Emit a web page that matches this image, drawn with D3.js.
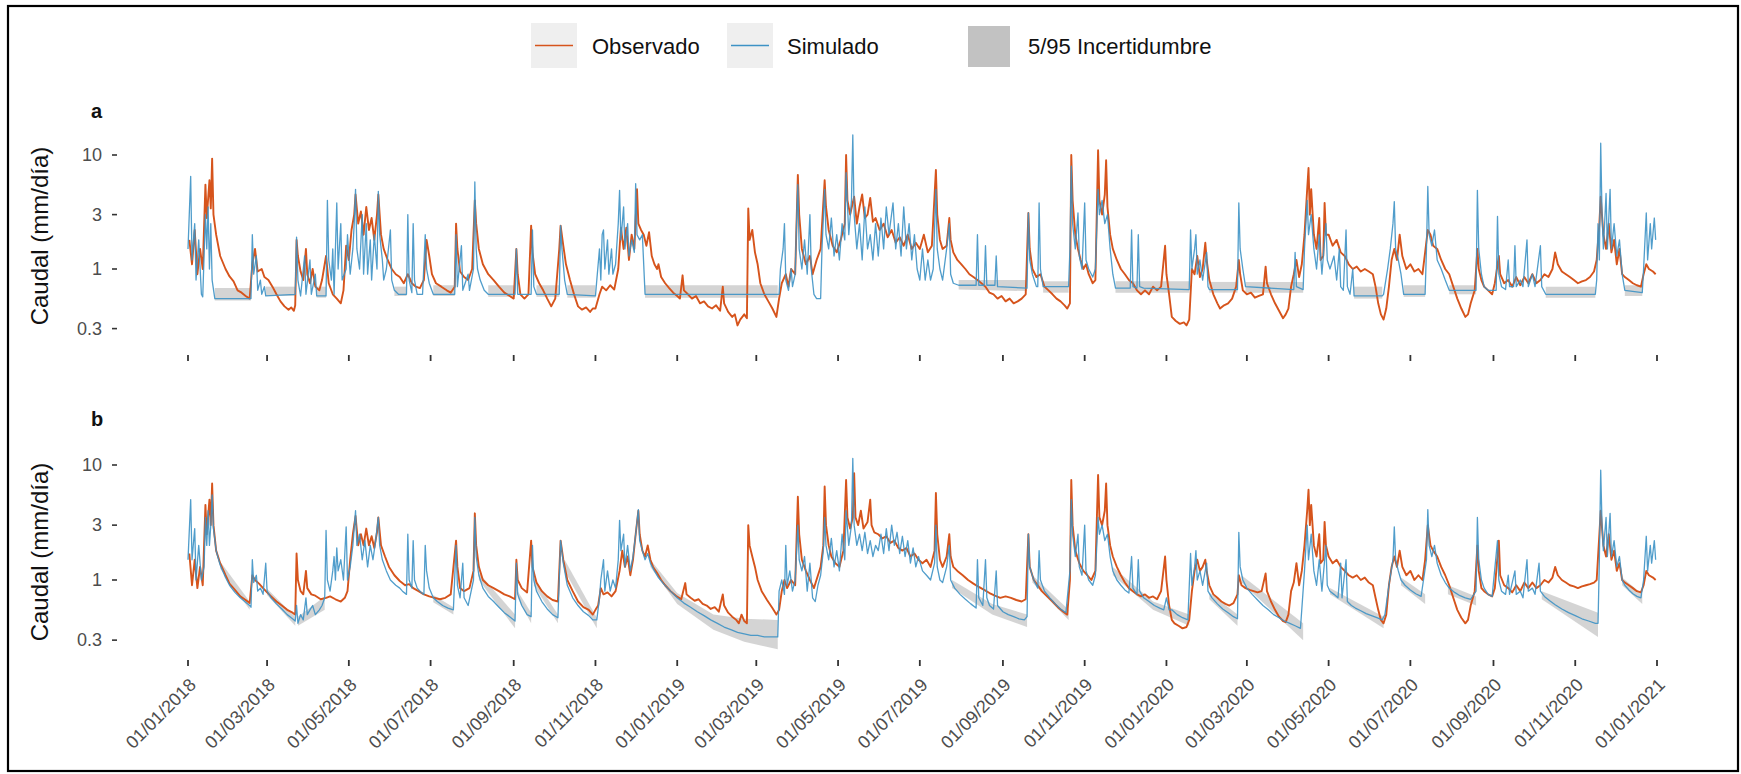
<!DOCTYPE html>
<html>
<head>
<meta charset="utf-8">
<script src="https://cdn.jsdelivr.net/npm/d3@7"></script>
<style>
  html, body { margin: 0; padding: 0; background: #fff; }
  svg { display: block; }
  text { font-family: "Liberation Sans", Arial, Helvetica, sans-serif; }
</style>
</head>
<body>
<svg id="chart" width="1741" height="774"></svg>
<script>
// Daily discharge (mm/día), days counted from 01/01/2018.
const START = new Date(2018, 0, 1);
const END = new Date(2021, 0, 1);

// Panel a: observed and simulated discharge
const obsA = [[1,1.8],[3,1.1],[5,2.2],[7,0.9],[9,1.5],[11,1.0],[13,5.5],[14,2.8],[16,6.0],[17,3.4],[18,9.3],[19,3.0],[21,2.0],[24,1.3],[28,1.0],[31,0.86],[34,0.78],[37,0.65],[40,0.62],[43,0.58],[46,0.55],[48,1.1],[50,1.5],[52,0.95],[55,1.0],[57,0.85],[60,0.8],[63,0.7],[66,0.6],[69,0.52],[72,0.47],[75,0.44],[77,0.46],[79,0.43],[80,0.48],[81,1.8],[82,1.3],[84,0.95],[86,0.8],[88,1.5],[89,0.9],[91,0.75],[93,1.0],[95,0.7],[98,0.65],[100,0.8],[103,1.3],[105,0.75],[108,0.6],[111,0.55],[114,0.5],[116,0.65],[118,1.6],[120,1.2],[122,2.2],[124,3.0],[125,4.5],[127,2.5],[129,3.2],[131,2.0],[133,3.5],[135,2.2],[137,2.8],[139,1.8],[141,3.0],[142,4.5],[144,2.0],[146,1.5],[149,1.2],[152,1.0],[155,0.9],[158,0.85],[161,0.75],[164,0.9],[167,0.75],[170,0.7],[173,0.68],[176,0.8],[178,1.8],[180,1.3],[182,0.9],[185,0.75],[189,0.7],[193,0.65],[196,0.62],[199,0.7],[200,2.5],[201,1.5],[203,0.95],[206,0.85],[209,0.8],[212,1.0],[214,4.0],[215,2.5],[217,1.5],[220,1.1],[224,0.9],[228,0.8],[232,0.7],[236,0.62],[240,0.58],[243,0.55],[245,1.5],[246,0.9],[248,0.6],[251,0.55],[254,0.6],[256,2.4],[257,1.4],[259,0.9],[262,0.75],[265,0.65],[268,0.55],[271,0.47],[274,0.55],[277,1.5],[278,2.4],[280,1.6],[282,1.1],[285,0.8],[288,0.6],[291,0.47],[294,0.44],[297,0.46],[300,0.42],[302,0.45],[304,0.45],[307,0.6],[309,0.7],[312,0.65],[315,0.72],[318,0.66],[321,1.0],[323,2.3],[325,1.5],[327,2.3],[329,1.2],[331,2.0],[333,1.5],[335,5.0],[336,2.5],[338,2.2],[340,2.0],[342,1.6],[344,2.1],[346,1.3],[348,1.1],[350,1.0],[351,1.1],[353,0.85],[356,0.75],[359,0.68],[362,0.62],[365,0.58],[367,0.55],[369,0.88],[370,0.65],[373,0.6],[376,0.55],[379,0.58],[382,0.5],[385,0.52],[388,0.47],[391,0.45],[394,0.48],[397,0.43],[399,0.7],[400,0.5],[403,0.42],[406,0.38],[408,0.4],[410,0.32],[412,0.36],[415,0.4],[417,0.37],[418,3.4],[419,1.8],[421,2.2],[423,1.4],[425,1.1],[427,0.75],[430,0.6],[433,0.52],[436,0.45],[439,0.38],[441,0.55],[443,0.75],[446,0.9],[448,0.7],[450,1.0],[453,0.9],[455,6.7],[456,3.0],[458,1.5],[461,1.1],[464,1.3],[466,0.9],[469,1.2],[472,1.5],[475,6.0],[476,3.5],[478,2.2],[481,1.6],[484,1.4],[487,1.8],[490,2.5],[491,10.0],[492,4.0],[494,3.0],[497,4.3],[499,2.5],[501,3.5],[503,4.5],[505,2.8],[507,3.0],[509,4.2],[511,2.6],[513,2.8],[516,2.2],[519,2.5],[522,1.9],[525,2.2],[528,1.7],[531,1.9],[534,1.6],[537,2.0],[540,1.5],[543,1.7],[546,1.5],[549,2.0],[552,1.4],[555,1.6],[558,7.4],[559,3.0],[561,1.8],[563,1.5],[566,1.6],[568,2.8],[569,1.8],[571,1.4],[574,1.2],[577,1.1],[580,1.0],[583,0.9],[586,0.85],[589,0.8],[592,0.75],[595,0.7],[598,0.62],[601,0.6],[604,0.55],[607,0.58],[610,0.52],[613,0.55],[616,0.5],[619,0.52],[622,0.55],[625,0.6],[627,3.1],[628,1.5],[630,1.0],[633,0.85],[636,0.9],[639,0.7],[642,0.65],[645,0.6],[648,0.55],[651,0.52],[654,0.48],[656,0.45],[658,0.5],[659,10.0],[660,4.0],[662,2.0],[664,1.5],[666,1.2],[668,1.0],[670,1.1],[672,0.9],[675,0.75],[677,0.8],[679,11.0],[680,4.0],[682,3.0],[684,4.5],[685,9.0],[686,3.5],[688,2.0],[690,1.5],[693,1.2],[696,1.0],[699,0.9],[702,0.8],[705,0.75],[708,0.65],[711,0.6],[714,0.65],[717,0.6],[720,0.7],[723,0.65],[726,0.7],[729,1.6],[730,0.9],[732,0.6],[734,0.38],[737,0.35],[740,0.33],[743,0.34],[745,0.32],[747,0.36],[749,1.0],[751,0.9],[753,1.3],[755,0.85],[757,1.0],[759,1.7],[760,1.2],[762,0.8],[765,0.6],[768,0.5],[770,0.45],[773,0.48],[776,0.5],[779,0.55],[782,0.7],[784,1.2],[785,0.9],[787,0.65],[790,0.6],[793,0.62],[796,0.56],[799,0.58],[802,0.6],[804,1.05],[805,0.75],[808,0.6],[811,0.5],[814,0.43],[817,0.37],[819,0.4],[821,0.45],[823,0.7],[825,0.9],[827,1.2],[829,0.85],[831,1.1],[833,2.0],[835,5.0],[836,7.7],[837,3.0],[838,5.0],[840,2.0],[842,1.5],[844,2.8],[845,1.2],[847,1.3],[848,3.8],[849,2.0],[851,2.0],[854,1.6],[857,1.8],[860,1.4],[863,1.3],[866,1.1],[869,1.0],[872,1.05],[875,0.95],[878,1.0],[881,0.95],[884,0.9],[886,0.7],[888,0.5],[890,0.4],[892,0.36],[894,0.45],[896,0.7],[898,1.2],[900,1.5],[902,1.2],[904,2.0],[906,1.3],[909,1.0],[912,1.1],[915,0.95],[918,1.0],[921,0.9],[923,1.4],[925,2.2],[927,2.0],[929,1.6],[932,1.5],[935,1.2],[938,1.0],[941,0.9],[944,0.7],[947,0.55],[950,0.45],[953,0.38],[955,0.4],[957,0.5],[960,0.65],[962,1.5],[963,1.0],[965,0.8],[967,0.7],[970,0.65],[973,0.6],[975,0.75],[978,1.3],[979,0.9],[982,0.75],[985,0.8],[988,0.7],[991,0.85],[994,0.72],[997,0.85],[1000,0.75],[1003,0.9],[1006,0.75],[1009,0.8],[1012,0.9],[1015,0.85],[1018,1.0],[1020,1.4],[1022,1.1],[1025,0.95],[1028,0.9],[1031,0.85],[1034,0.8],[1037,0.75],[1040,0.78],[1043,0.8],[1046,0.85],[1049,0.95],[1051,1.2],[1053,2.5],[1054,4.3],[1056,2.0],[1058,1.5],[1060,2.5],[1062,1.4],[1064,1.8],[1066,1.1],[1068,1.5],[1070,0.9],[1072,0.85],[1075,0.8],[1078,0.75],[1081,0.72],[1084,0.7],[1086,0.9],[1088,1.1],[1090,1.0],[1093,0.95],[1095,0.9]];

const simA = [[0,1.5],[2,6.5],[3,1.2],[5,2.5],[6,0.8],[8,1.8],[10,0.6],[11,0.57],[13,3.0],[14,1.5],[15,3.5],[16,1.0],[17,2.5],[18,0.8],[20,0.55],[47,0.55],[48,2.0],[49,0.9],[51,1.3],[52,0.65],[54,0.8],[55,0.6],[57,0.7],[58,0.58],[80,0.6],[81,1.9],[82,0.8],[84,0.58],[87,1.3],[88,0.6],[91,1.2],[92,0.6],[95,0.9],[96,0.58],[103,0.58],[104,4.0],[105,1.2],[107,0.8],[108,1.5],[109,0.6],[111,3.8],[112,1.0],[114,2.5],[115,0.8],[118,1.0],[119,2.0],[121,0.9],[123,1.5],[124,2.5],[125,5.0],[126,1.5],[128,1.0],[130,3.0],[131,0.9],[133,2.5],[134,0.9],[136,1.8],[137,0.8],[139,2.0],[141,1.0],[142,4.8],[143,2.0],[145,1.2],[146,0.8],[148,1.0],[151,2.2],[152,0.8],[154,0.65],[157,0.6],[163,0.6],[164,3.0],[165,0.8],[167,0.62],[168,2.5],[169,0.8],[171,0.6],[175,0.6],[177,2.0],[178,1.0],[180,0.75],[183,0.6],[199,0.6],[200,2.0],[201,0.7],[204,1.6],[205,0.65],[209,0.9],[210,0.65],[213,1.0],[214,5.8],[215,1.5],[216,1.0],[218,0.8],[221,0.65],[224,0.6],[244,0.6],[245,1.5],[246,0.6],[256,0.6],[257,2.2],[258,0.7],[260,0.6],[277,0.6],[278,2.4],[279,1.5],[281,0.8],[283,0.6],[304,0.58],[305,0.8],[307,1.5],[308,0.8],[309,2.0],[310,2.2],[311,1.0],[313,1.8],[314,0.9],[316,1.5],[317,0.9],[319,1.1],[321,2.5],[322,4.9],[323,1.8],[325,3.5],[326,1.5],[328,2.5],[329,1.3],[331,1.8],[333,1.4],[334,5.6],[335,2.0],[337,1.8],[339,2.0],[341,0.6],[440,0.6],[441,0.6],[442,1.0],[444,1.5],[445,2.5],[446,0.8],[448,0.65],[450,1.0],[451,0.7],[453,0.9],[454,2.5],[455,5.5],[456,1.5],[458,1.0],[460,1.8],[462,0.9],[464,3.0],[465,1.0],[467,0.6],[469,0.55],[472,0.55],[473,1.5],[475,5.0],[476,2.0],[478,1.5],[480,2.8],[482,1.3],[484,2.0],[486,1.2],[488,2.5],[490,1.8],[491,7.0],[493,2.0],[495,4.0],[496,15.0],[497,3.0],[499,1.5],[501,2.5],[503,1.2],[505,3.5],[507,1.5],[509,2.0],[511,1.2],[513,2.5],[515,1.3],[517,2.8],[519,1.5],[521,3.5],[523,2.0],[526,3.8],[528,1.5],[530,2.5],[532,1.3],[534,3.5],[536,1.5],[538,2.5],[540,1.2],[542,2.0],[544,1.0],[546,0.8],[548,1.5],[550,0.8],[552,1.2],[554,0.8],[556,1.0],[558,5.0],[559,1.5],[561,1.0],[563,0.8],[566,1.5],[568,2.5],[569,0.9],[571,0.75],[575,0.72],[588,0.72],[589,2.0],[590,0.72],[594,0.72],[595,1.6],[596,0.72],[602,0.72],[603,1.3],[604,0.7],[626,0.68],[627,3.1],[628,1.2],[630,0.9],[633,0.7],[634,0.7],[635,3.8],[636,1.0],[638,0.7],[657,0.7],[658,1.5],[659,8.0],[660,2.5],[662,1.5],[664,3.1],[665,1.3],[667,1.0],[669,3.8],[670,1.2],[672,1.0],[675,0.85],[677,1.0],[679,5.0],[680,3.0],[682,4.0],[684,2.5],[686,3.0],[688,1.5],[690,0.9],[692,0.68],[703,0.68],[704,2.2],[705,0.7],[708,0.68],[709,2.0],[710,0.7],[713,0.68],[747,0.66],[748,2.2],[749,1.0],[751,1.5],[752,2.0],[753,0.9],[755,1.2],[757,0.8],[760,1.4],[761,0.7],[762,0.66],[783,0.66],[784,3.8],[785,1.5],[787,1.0],[789,0.7],[825,0.66],[826,1.4],[827,0.7],[832,0.66],[833,1.5],[835,4.0],[836,2.0],[838,3.0],[840,1.5],[842,1.0],[844,2.0],[846,0.9],[849,2.5],[850,1.2],[852,1.0],[855,1.3],[857,0.8],[859,1.5],[860,0.7],[862,0.65],[864,2.2],[865,0.7],[867,0.6],[869,1.0],[870,0.58],[891,0.58],[892,0.6],[895,1.0],[897,1.5],[899,2.5],[900,3.9],[901,1.5],[903,1.2],[905,0.9],[907,0.6],[923,0.6],[924,1.5],[925,5.3],[926,2.0],[928,1.6],[930,2.2],[932,1.2],[935,1.0],[938,0.8],[941,0.65],[961,0.65],[962,4.9],[963,1.5],[965,0.9],[967,0.7],[970,0.65],[976,0.65],[977,2.9],[978,0.9],[980,0.7],[983,0.66],[985,1.2],[986,0.7],[989,0.7],[990,1.6],[991,0.7],[994,0.8],[996,0.7],[999,1.8],[1000,0.7],[1003,0.9],[1005,0.7],[1009,1.6],[1010,0.7],[1013,0.6],[1050,0.6],[1051,0.8],[1052,2.5],[1053,1.2],[1054,12.7],[1055,3.0],[1056,1.5],[1058,4.6],[1059,1.5],[1061,5.0],[1062,1.5],[1064,2.5],[1066,1.3],[1068,1.8],[1070,0.9],[1072,0.65],[1085,0.62],[1086,1.0],[1088,3.1],[1089,1.2],[1091,2.5],[1092,1.5],[1094,2.8],[1095,1.8]];

// 5/95 band of the simulations, panel a: runs of [day, 5 %, 95 %]
const bandA = [
  [[20,0.53,0.68],[47,0.53,0.68]],
  [[58,0.58,0.7],[80,0.58,0.7]],
  [[96,0.56,0.7],[103,0.56,0.7]],
  [[154,0.58,0.7],[163,0.58,0.7]],
  [[183,0.58,0.72],[199,0.58,0.72]],
  [[224,0.57,0.72],[244,0.57,0.72]],
  [[260,0.57,0.72],[277,0.57,0.72]],
  [[283,0.56,0.72],[304,0.56,0.72]],
  [[341,0.56,0.72],[440,0.56,0.72]],
  [[575,0.66,0.8],[626,0.64,0.8]],
  [[638,0.62,0.78],[657,0.62,0.78]],
  [[692,0.62,0.78],[747,0.62,0.78]],
  [[762,0.62,0.77],[783,0.62,0.77]],
  [[789,0.62,0.77],[832,0.62,0.77]],
  [[870,0.55,0.7],[891,0.55,0.7]],
  [[907,0.57,0.72],[923,0.57,0.72]],
  [[941,0.6,0.72],[961,0.6,0.72]],
  [[1013,0.56,0.7],[1050,0.56,0.7]],
  [[1072,0.58,0.72],[1085,0.58,0.72]]
];

// Panel b: observed and simulated discharge
const obsB = [[1,1.7],[3,0.9],[5,1.5],[7,0.85],[9,1.3],[11,0.9],[13,4.5],[14,2.5],[16,5.0],[17,3.0],[18,6.9],[19,3.0],[21,1.8],[24,1.4],[28,1.1],[31,0.93],[35,0.82],[39,0.72],[43,0.67],[46,0.63],[48,1.1],[50,1.0],[53,0.93],[56,0.85],[59,0.78],[62,0.72],[66,0.65],[70,0.6],[74,0.55],[78,0.52],[80,0.5],[81,1.7],[82,1.0],[84,0.8],[86,0.75],[88,1.2],[89,0.85],[92,0.75],[95,0.73],[99,0.68],[103,0.7],[106,0.72],[110,0.68],[114,0.65],[117,0.7],[119,0.8],[121,1.5],[123,2.5],[125,3.6],[127,2.0],[129,2.5],[131,2.0],[133,2.8],[135,2.0],[137,2.4],[139,1.9],[141,2.6],[142,3.5],[144,2.0],[147,1.6],[150,1.3],[154,1.1],[158,0.98],[162,0.9],[165,0.92],[168,0.85],[172,0.8],[176,0.75],[180,0.72],[184,0.7],[188,0.68],[192,0.7],[196,0.75],[200,2.2],[201,1.3],[203,0.85],[206,0.8],[210,0.85],[213,1.2],[214,3.8],[215,2.0],[217,1.3],[220,1.0],[224,0.9],[228,0.85],[232,0.8],[236,0.75],[240,0.72],[244,0.68],[245,1.5],[246,1.0],[249,0.85],[253,0.78],[256,2.2],[257,1.3],[260,0.95],[264,0.8],[268,0.72],[272,0.67],[276,0.65],[278,2.2],[280,1.5],[283,1.0],[287,0.8],[291,0.65],[295,0.58],[299,0.55],[302,0.5],[304,0.55],[306,0.6],[308,0.85],[310,0.75],[313,0.78],[316,0.72],[319,0.8],[322,1.2],[324,1.8],[326,1.3],[328,1.6],[330,1.1],[332,1.5],[334,2.5],[336,4.0],[337,2.5],[339,1.8],[341,1.6],[343,2.0],[345,1.5],[347,1.3],[350,1.15],[353,1.0],[356,0.9],[360,0.8],[364,0.73],[368,0.68],[371,0.94],[372,0.75],[375,0.7],[378,0.66],[381,0.68],[384,0.62],[387,0.6],[390,0.56],[393,0.58],[396,0.53],[399,0.75],[400,0.6],[403,0.52],[406,0.48],[409,0.45],[411,0.42],[413,0.5],[415,0.44],[417,0.42],[418,3.0],[419,2.0],[421,1.6],[423,1.3],[425,1.0],[428,0.8],[432,0.67],[436,0.57],[439,0.5],[441,0.55],[443,0.8],[445,1.0],[447,0.85],[450,1.0],[453,0.9],[455,5.3],[456,2.5],[458,1.5],[461,1.2],[464,1.0],[467,0.85],[470,1.1],[472,1.3],[474,2.0],[475,6.5],[476,3.0],[478,2.0],[480,1.6],[483,1.4],[486,1.3],[489,1.8],[491,7.4],[492,3.5],[494,2.8],[496,3.5],[497,8.5],[498,3.5],[500,3.0],[502,4.0],[504,2.8],[507,3.2],[509,5.0],[510,3.0],[512,2.6],[515,2.5],[518,2.3],[521,2.4],[524,2.1],[527,2.2],[530,1.9],[533,1.8],[536,1.9],[539,1.6],[542,1.7],[545,1.5],[548,1.4],[551,1.5],[554,1.3],[557,1.8],[558,5.7],[559,2.5],[561,1.5],[563,1.3],[566,1.6],[568,2.5],[569,1.6],[571,1.3],[574,1.2],[578,1.1],[582,1.0],[586,0.93],[590,0.87],[594,0.82],[598,0.77],[602,0.73],[606,0.7],[610,0.72],[614,0.7],[618,0.67],[622,0.65],[625,0.68],[627,2.5],[628,1.3],[631,1.0],[634,0.9],[637,0.8],[641,0.72],[645,0.65],[649,0.58],[653,0.53],[656,0.5],[658,1.0],[659,7.4],[660,3.0],[662,1.8],[665,1.4],[668,1.2],[671,1.1],[674,1.0],[677,1.2],[679,8.2],[680,3.5],[682,3.0],[684,4.0],[685,6.9],[686,3.0],[688,2.0],[690,1.6],[693,1.3],[696,1.1],[699,0.95],[702,0.85],[705,0.8],[708,0.75],[711,0.72],[714,0.75],[717,0.7],[720,0.72],[723,0.68],[726,0.8],[729,1.6],[730,1.0],[732,0.6],[734,0.45],[736,0.42],[739,0.4],[742,0.38],[745,0.39],[747,0.45],[749,0.8],[751,1.2],[753,1.5],[755,1.2],[757,1.3],[759,1.5],[760,1.2],[762,0.9],[765,0.75],[768,0.7],[771,0.65],[774,0.62],[777,0.6],[780,0.63],[783,0.75],[784,1.1],[786,0.9],[789,0.85],[792,0.82],[795,0.8],[798,0.78],[801,0.8],[804,1.14],[805,0.8],[808,0.65],[811,0.55],[814,0.48],[817,0.44],[819,0.43],[821,0.5],[823,0.8],[825,0.95],[827,1.4],[829,0.9],[831,1.2],[833,2.0],[835,4.0],[836,6.1],[837,3.0],[838,4.5],[840,2.0],[842,1.6],[844,2.5],[845,1.4],[847,1.5],[848,3.2],[849,2.0],[851,1.6],[854,1.4],[857,1.5],[860,1.3],[863,1.2],[866,1.1],[869,1.05],[872,1.1],[875,1.0],[878,1.05],[881,0.95],[884,0.9],[886,0.7],[888,0.55],[890,0.45],[892,0.42],[894,0.5],[896,0.9],[898,1.3],[900,1.6],[902,1.3],[904,1.8],[906,1.3],[909,1.1],[912,1.2],[915,1.0],[918,1.1],[921,1.0],[923,1.5],[925,3.0],[927,2.0],[929,1.8],[932,1.6],[935,1.3],[938,1.1],[941,0.9],[944,0.7],[947,0.55],[950,0.47],[953,0.42],[955,0.45],[957,0.6],[960,0.8],[962,2.0],[963,1.2],[965,0.85],[967,0.8],[970,0.75],[973,0.72],[975,0.85],[978,2.2],[979,1.1],[982,0.9],[985,0.85],[988,0.78],[991,0.9],[994,0.8],[997,0.95],[1000,0.85],[1003,0.95],[1006,0.85],[1009,0.9],[1012,1.0],[1015,0.95],[1018,1.05],[1020,1.3],[1022,1.1],[1025,1.0],[1028,0.95],[1031,0.9],[1034,0.88],[1037,0.85],[1040,0.88],[1043,0.9],[1046,0.92],[1049,0.95],[1051,1.0],[1053,2.5],[1054,4.0],[1056,2.0],[1058,1.6],[1060,2.5],[1062,1.5],[1064,1.8],[1066,1.2],[1068,1.4],[1070,1.0],[1072,0.95],[1075,0.9],[1078,0.85],[1081,0.8],[1084,0.78],[1086,0.9],[1088,1.2],[1090,1.1],[1093,1.05],[1095,1.0]];

const simB = [[0,1.5],[2,5.0],[3,1.5],[5,2.8],[6,1.0],[8,2.0],[10,1.0],[12,1.3],[13,3.5],[14,2.0],[15,4.0],[16,2.0],[17,3.0],[18,5.5],[19,2.8],[21,1.8],[24,1.35],[28,1.05],[31,0.9],[35,0.78],[39,0.7],[43,0.64],[46,0.6],[47,0.58],[48,1.5],[49,0.95],[51,1.1],[52,0.8],[54,0.85],[56,0.75],[58,1.4],[59,0.8],[62,0.7],[66,0.62],[70,0.56],[74,0.5],[78,0.46],[80,0.44],[81,0.6],[82,0.42],[84,0.5],[86,0.45],[88,0.7],[89,0.5],[91,0.55],[93,0.6],[95,0.5],[98,0.55],[100,0.6],[102,0.7],[103,2.7],[104,1.0],[106,0.8],[108,1.2],[109,1.6],[110,1.0],[111,1.9],[112,1.2],[114,1.5],[116,1.0],[118,2.9],[119,1.0],[121,1.3],[123,2.0],[125,4.0],[126,2.0],[128,2.5],[130,1.5],[132,2.2],[134,1.3],[136,2.0],[138,1.5],[140,2.2],[142,3.5],[143,2.0],[145,1.5],[148,1.2],[151,1.0],[155,0.9],[158,0.85],[160,0.8],[163,0.75],[164,2.5],[165,1.0],[167,0.85],[168,2.2],[169,1.0],[171,0.85],[174,0.78],[176,0.75],[177,2.0],[178,1.2],[180,0.85],[183,0.7],[186,0.65],[190,0.6],[194,0.57],[198,0.55],[200,2.0],[201,0.9],[203,0.7],[205,1.4],[206,0.7],[209,0.6],[213,1.0],[214,3.5],[215,1.6],[217,1.1],[220,0.85],[224,0.72],[228,0.65],[232,0.58],[236,0.52],[240,0.48],[244,0.44],[245,1.4],[246,0.75],[249,0.6],[253,0.5],[256,0.48],[257,2.0],[258,1.0],[260,0.8],[264,0.65],[268,0.56],[272,0.5],[276,0.47],[278,2.2],[280,1.4],[283,0.9],[287,0.7],[291,0.6],[295,0.53],[299,0.49],[302,0.45],[305,0.45],[307,0.7],[308,1.0],[310,1.5],[311,0.8],[313,1.2],[315,0.8],[317,1.0],[319,0.85],[321,1.5],[322,3.3],[323,1.8],[325,2.5],[326,1.3],[328,2.0],[330,1.2],[332,1.6],[334,2.5],[336,4.1],[337,2.2],[339,1.8],[341,1.5],[343,1.7],[345,1.4],[348,1.2],[351,1.05],[355,0.92],[360,0.8],[365,0.7],[370,0.63],[375,0.58],[380,0.53],[385,0.49],[390,0.45],[395,0.42],[400,0.39],[405,0.37],[410,0.35],[415,0.34],[420,0.33],[425,0.33],[430,0.32],[435,0.32],[440,0.32],[441,0.8],[443,1.0],[445,0.75],[446,2.0],[447,0.9],[449,1.2],[451,0.8],[453,1.0],[455,3.0],[456,1.5],[458,1.2],[460,1.6],[462,0.8],[464,1.4],[466,0.7],[468,0.65],[470,0.9],[472,1.1],[474,1.8],[475,3.5],[476,2.0],[478,1.5],[480,2.3],[482,1.3],[484,1.8],[486,1.2],[488,2.5],[490,1.5],[491,4.0],[493,2.0],[495,3.0],[496,11.4],[497,3.0],[499,2.0],[501,2.5],[503,1.8],[505,2.6],[507,1.7],[509,2.2],[511,1.6],[513,2.0],[515,1.8],[517,2.5],[519,1.7],[521,2.8],[523,1.8],[525,3.0],[527,2.0],[529,2.6],[531,1.7],[533,2.4],[535,1.6],[537,2.2],[539,1.4],[541,1.9],[543,1.3],[545,1.6],[548,1.2],[551,1.1],[554,1.0],[557,1.4],[558,3.0],[559,1.3],[561,1.0],[563,0.95],[566,1.3],[568,2.0],[569,1.0],[572,0.85],[576,0.75],[580,0.68],[584,0.62],[588,0.57],[589,1.5],[590,0.7],[593,0.6],[595,1.5],[596,0.7],[598,0.6],[601,0.56],[603,1.2],[604,0.6],[608,0.53],[612,0.5],[616,0.48],[620,0.46],[624,0.45],[626,0.48],[627,2.5],[628,1.3],[631,1.0],[634,0.85],[635,1.8],[636,1.0],[639,0.8],[643,0.7],[647,0.62],[651,0.56],[655,0.52],[658,1.2],[659,5.0],[660,2.5],[662,1.6],[664,2.5],[665,1.3],[667,1.1],[669,3.0],[670,1.2],[672,1.0],[675,0.9],[677,1.1],[679,3.5],[680,2.5],[682,3.0],[684,2.2],[686,2.5],[688,1.6],[690,1.2],[693,1.0],[696,0.9],[699,0.82],[702,0.77],[704,1.6],[705,0.85],[708,0.75],[709,1.5],[710,0.8],[713,0.7],[717,0.65],[721,0.6],[725,0.57],[728,0.55],[730,0.7],[732,0.55],[734,0.55],[738,0.5],[742,0.47],[746,0.45],[748,1.7],[749,0.9],[751,1.3],[752,1.8],[753,1.0],[755,1.2],[757,0.9],[760,1.4],[761,0.8],[764,0.7],[768,0.62],[772,0.56],[776,0.52],[780,0.48],[783,0.46],[784,2.6],[785,1.3],[787,1.0],[790,0.85],[794,0.75],[798,0.67],[802,0.6],[806,0.55],[810,0.5],[814,0.47],[818,0.44],[822,0.42],[826,0.4],[830,0.38],[833,1.2],[835,3.0],[836,1.5],[838,2.5],[840,1.2],[842,0.9],[844,1.5],[846,0.8],[849,2.0],[850,0.9],[852,0.8],[855,0.75],[858,0.7],[860,1.4],[861,0.7],[864,1.5],[865,0.65],[868,0.6],[871,0.57],[875,0.54],[879,0.51],[883,0.49],[887,0.47],[891,0.45],[893,0.5],[896,0.9],[899,1.5],[900,2.9],[901,1.5],[903,1.2],[905,1.0],[908,0.9],[912,0.82],[916,0.76],[920,0.72],[924,1.5],[925,4.1],[926,2.0],[928,1.6],[930,2.0],[932,1.4],[935,1.1],[938,0.95],[941,0.85],[945,0.78],[949,0.73],[953,0.7],[957,0.68],[961,0.8],[962,3.5],[963,1.5],[965,1.0],[967,0.85],[970,0.75],[973,0.72],[977,2.2],[978,1.0],[980,0.8],[983,0.75],[985,1.1],[986,0.75],[990,1.2],[991,0.75],[994,0.8],[996,0.7],[999,1.5],[1000,0.8],[1003,0.85],[1005,0.75],[1008,1.4],[1009,0.8],[1012,0.72],[1016,0.66],[1020,0.61],[1025,0.56],[1030,0.52],[1035,0.49],[1040,0.46],[1045,0.44],[1050,0.42],[1052,0.42],[1053,1.5],[1054,9.0],[1055,3.0],[1056,1.8],[1058,3.5],[1059,1.6],[1061,3.8],[1062,1.6],[1064,2.2],[1066,1.3],[1068,1.6],[1070,1.0],[1072,0.9],[1075,0.82],[1078,0.76],[1081,0.72],[1084,0.7],[1086,1.0],[1088,2.4],[1089,1.2],[1091,2.0],[1092,1.4],[1094,2.2],[1095,1.5]];

// 5/95 band of the simulations, panel b: runs of [day, 5 %, 95 %]
const bandB = [
  [[24,1.25,1.45],[46,0.55,0.65]],
  [[59,0.74,0.84],[80,0.4,0.48]],
  [[82,0.4,0.48],[102,0.55,0.72]],
  [[183,0.64,0.74],[198,0.5,0.58]],
  [[217,1.0,1.15],[244,0.38,0.5]],
  [[246,0.7,0.8],[256,0.42,0.52]],
  [[258,0.9,1.05],[276,0.42,0.5]],
  [[281,1.2,1.5],[305,0.38,0.47]],
  [[345,1.3,1.5],[365,0.62,0.77],[392,0.37,0.5],[415,0.29,0.46],[440,0.25,0.45]],
  [[570,0.85,1.0],[600,0.5,0.62],[626,0.39,0.5]],
  [[630,0.95,1.1],[657,0.45,0.55]],
  [[690,1.1,1.3],[720,0.55,0.65],[747,0.4,0.5]],
  [[762,0.68,0.78],[783,0.4,0.5]],
  [[786,0.95,1.1],[832,0.3,0.42]],
  [[852,0.75,0.85],[892,0.38,0.48]],
  [[905,0.9,1.05],[923,0.62,0.75]],
  [[940,0.75,0.9],[961,0.6,0.72]],
  [[1010,0.68,0.8],[1052,0.32,0.52]],
  [[1070,0.9,1.05],[1085,0.62,0.75]]
];

// Axis ticks and legend entries
const yTickValues = [0.3, 1, 3, 10];
const yTickLabels = ["0.3", "1", "3", "10"];
const legendItems = ["Observado", "Simulado", "5/95 Incertidumbre"];

const COL_OBS = "#d6541c";
const COL_SIM = "#3d92c5";
const COL_BAND = "#a9a9a9";

const svg = d3.select("#chart");
svg.append("rect").attr("x", 0).attr("y", 0).attr("width", 1741).attr("height", 774).attr("fill", "#fff");

const toDate = d => d3.timeDay.offset(START, d);
const x = d3.scaleTime().domain([START, END]).range([188, 1657]);

const panels = [
  { tag: "a", obs: obsA, sim: simA, band: bandA, y: d3.scaleLog().domain([1, 10]).range([269, 155]),
    tickY: 355, labelY: 118, titleY: 236, showDates: false },
  { tag: "b", obs: obsB, sim: simB, band: bandB, y: d3.scaleLog().domain([1, 10]).range([580, 465]),
    tickY: 660, labelY: 426, titleY: 552, showDates: true }
];

panels.forEach(p => {
  const g = svg.append("g");
  const area = d3.area()
    .x(d => x(toDate(d[0])))
    .y0(d => p.y(d[1]))
    .y1(d => p.y(d[2]));
  const line = d3.line()
    .x(d => x(toDate(d[0])))
    .y(d => p.y(d[1]));

  g.selectAll("path.band").data(p.band).join("path")
    .attr("class", "band")
    .attr("d", area)
    .attr("fill", COL_BAND)
    .attr("fill-opacity", 0.5);

  g.append("path").datum(p.obs)
    .attr("d", line).attr("fill", "none")
    .attr("stroke", COL_OBS).attr("stroke-width", 1.9)
    .attr("stroke-linejoin", "round");

  g.append("path").datum(p.sim)
    .attr("d", line).attr("fill", "none")
    .attr("stroke", COL_SIM).attr("stroke-width", 1.3)
    .attr("stroke-opacity", 0.9)
    .attr("stroke-linejoin", "round");

  // y axis: labels with short tick marks
  const yAxis = svg.append("g");
  yTickValues.forEach((v, i) => {
    const yy = p.y(v);
    yAxis.append("line").attr("x1", 112).attr("x2", 117).attr("y1", yy).attr("y2", yy)
      .attr("stroke", "#333").attr("stroke-width", 1.6);
    yAxis.append("text").attr("x", 102).attr("y", yy).attr("dy", "0.35em")
      .attr("text-anchor", "end").attr("font-size", 18).attr("fill", "#4d4d4d")
      .text(yTickLabels[i]);
  });

  svg.append("text")
    .attr("transform", `translate(48,${p.titleY}) rotate(-90)`)
    .attr("text-anchor", "middle").attr("font-size", 24).attr("fill", "#111")
    .text("Caudal (mm/día)");

  svg.append("text").attr("x", 91).attr("y", p.labelY)
    .attr("font-size", 20).attr("font-weight", "bold").attr("fill", "#111")
    .text(p.tag);

  // x axis ticks every two months
  const xTicks = x.ticks(d3.timeMonth.every(2));
  const xa = svg.append("g");
  xa.selectAll("line").data(xTicks).join("line")
    .attr("x1", d => x(d)).attr("x2", d => x(d))
    .attr("y1", p.tickY).attr("y2", p.tickY + 6)
    .attr("stroke", "#333").attr("stroke-width", 1.8);
  if (p.showDates) {
    const fmt = d3.timeFormat("%d/%m/%Y");
    xa.selectAll("text").data(xTicks).join("text")
      .attr("transform", d => `translate(${x(d) + 9},${p.tickY + 26}) rotate(-45)`)
      .attr("text-anchor", "end").attr("font-size", 18).attr("fill", "#4d4d4d")
      .text(d => fmt(d));
  }
});

// Legend
const lg = svg.append("g");
lg.append("rect").attr("x", 531).attr("y", 23).attr("width", 46).attr("height", 45).attr("fill", "#efefef");
lg.append("line").attr("x1", 535).attr("x2", 573).attr("y1", 45.5).attr("y2", 45.5).attr("stroke", COL_OBS).attr("stroke-width", 1.5);
lg.append("text").attr("x", 592).attr("y", 46).attr("dy", "0.35em").attr("font-size", 22).attr("fill", "#111").text(legendItems[0]);
lg.append("rect").attr("x", 727).attr("y", 23).attr("width", 46).attr("height", 45).attr("fill", "#efefef");
lg.append("line").attr("x1", 731).attr("x2", 769).attr("y1", 45.5).attr("y2", 45.5).attr("stroke", COL_SIM).attr("stroke-width", 1.5);
lg.append("text").attr("x", 787).attr("y", 46).attr("dy", "0.35em").attr("font-size", 22).attr("fill", "#111").text(legendItems[1]);
lg.append("rect").attr("x", 968).attr("y", 26).attr("width", 42).attr("height", 41).attr("fill", "#c2c2c2");
lg.append("text").attr("x", 1028).attr("y", 46).attr("dy", "0.35em").attr("font-size", 22).attr("fill", "#111").text(legendItems[2]);

// Outer frame
svg.append("rect").attr("x", 8).attr("y", 6).attr("width", 1730).attr("height", 765)
  .attr("fill", "none").attr("stroke", "#000").attr("stroke-width", 2.2);
</script>
</body>
</html>
